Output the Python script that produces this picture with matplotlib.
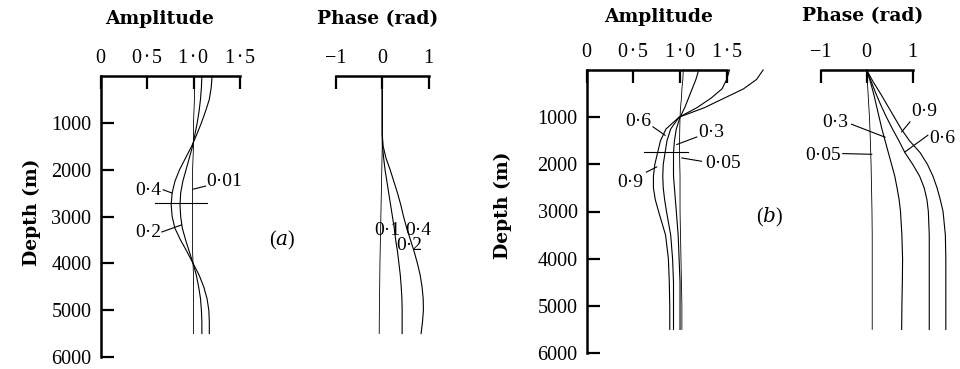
import numpy as np
import matplotlib
matplotlib.use('Agg')
import matplotlib.pyplot as plt

# ---------------- data ----------------
# (a) amplitude, depth in m
depth_a = [0, 250, 500, 750, 1000, 1250, 1500, 1750, 2000, 2250, 2500, 2750,
           3000, 3250, 3500, 3750, 4000, 4250, 4500, 4750, 5000, 5250, 5500]
amp_a_001 = [1.01, 1.01, 1.01, 1.005, 1.0, 1.0, 1.0, 0.995, 0.99, 0.99, 0.99, 0.99,
             0.99, 0.99, 0.99, 0.99, 0.995, 1.0, 1.0, 1.0, 1.0, 1.0, 1.0]
amp_a_02 = [1.09, 1.085, 1.075, 1.06, 1.04, 1.015, 0.99, 0.955, 0.92, 0.885, 0.862, 0.855,
            0.862, 0.88, 0.915, 0.955, 0.995, 1.03, 1.055, 1.075, 1.085, 1.09, 1.09]
amp_a_04 = [1.2, 1.19, 1.17, 1.13, 1.085, 1.035, 0.98, 0.915, 0.85, 0.8, 0.77, 0.76,
            0.77, 0.8, 0.86, 0.93, 0.995, 1.06, 1.11, 1.145, 1.165, 1.17, 1.17]
bar_a_amp = [0.59, 1.14]
bar_a_depth = [2720, 2720]

# (a) phase (rad)
phase_a_01 = [0, 0, 0, 0, 0, 0, 0, -0.005, -0.01, -0.015, -0.02, -0.025,
              -0.03, -0.035, -0.04, -0.045, -0.05, -0.053, -0.056, -0.059, -0.062, -0.064, -0.065]
phase_a_02 = [0, 0, 0, 0, 0, 0, 0.005, 0.03, 0.06, 0.1, 0.14, 0.18,
              0.22, 0.26, 0.29, 0.33, 0.36, 0.39, 0.41, 0.425, 0.43, 0.43, 0.43]
phase_a_04 = [0, 0, 0, 0, 0, 0, 0.02, 0.08, 0.17, 0.25, 0.33, 0.4,
              0.46, 0.53, 0.61, 0.69, 0.76, 0.82, 0.86, 0.885, 0.89, 0.87, 0.84]

# (b) amplitude
depth_b = [0, 200, 400, 600, 800, 1000, 1250, 1500, 1750, 2000, 2250, 2500,
           2750, 3000, 3500, 4000, 4500, 5000, 5500]
amp_b_09 = [1.89, 1.82, 1.68, 1.47, 1.26, 0.99, 0.85, 0.79, 0.76, 0.73, 0.715, 0.715,
            0.735, 0.77, 0.845, 0.875, 0.885, 0.89, 0.89]
amp_b_06 = [1.53, 1.5, 1.45, 1.33, 1.18, 0.99, 0.9, 0.86, 0.84, 0.82, 0.815, 0.82,
            0.835, 0.855, 0.9, 0.92, 0.93, 0.93, 0.93]
amp_b_03 = [1.2, 1.17, 1.13, 1.09, 1.05, 1.0, 0.96, 0.94, 0.93, 0.93, 0.93, 0.94,
            0.95, 0.96, 0.98, 0.99, 1.0, 1.0, 1.0]
amp_b_005 = [1.035, 1.03, 1.02, 1.015, 1.005, 1.0, 0.997, 0.995, 0.995, 0.997, 1.0, 1.0,
             1.0, 1.0, 1.005, 1.01, 1.015, 1.02, 1.02]
bar_b_amp = [0.61, 1.09]
bar_b_depth = [1745, 1745]

# (b) phase
depth_bp = [0, 250, 500, 750, 1000, 1250, 1500, 1750, 2000, 2250, 2500, 2750,
            3000, 3500, 4000, 4500, 5000, 5500]
phase_b_005 = [0, 0.015, 0.03, 0.045, 0.06, 0.07, 0.08, 0.087, 0.095, 0.1, 0.105, 0.11,
               0.115, 0.12, 0.12, 0.12, 0.12, 0.12]
phase_b_03 = [0, 0.08, 0.15, 0.21, 0.27, 0.33, 0.4, 0.47, 0.54, 0.61, 0.66, 0.705,
              0.735, 0.765, 0.78, 0.775, 0.765, 0.76]
phase_b_06 = [0, 0.1, 0.2, 0.31, 0.43, 0.56, 0.7, 0.83, 1.0, 1.15, 1.25, 1.31,
              1.34, 1.36, 1.36, 1.36, 1.36, 1.36]
phase_b_09 = [0, 0.14, 0.3, 0.45, 0.6, 0.75, 0.93, 1.16, 1.32, 1.44, 1.53, 1.6,
              1.66, 1.71, 1.72, 1.72, 1.72, 1.72]

amp_ticks = [0, 0.5, 1.0, 1.5]
amp_ticklabels = ['0', '0\u200a·\u200a5', '1\u200a·\u200a0', '1\u200a·\u200a5']
phase_ticks = [-1, 0, 1]
phase_ticklabels = ['\u22121', '0', '1']
depth_ticks = [1000, 2000, 3000, 4000, 5000, 6000]

SERIF = ['Liberation Serif', 'DejaVu Serif']
plt.rcParams['font.family'] = SERIF
plt.rcParams['mathtext.fontset'] = 'dejavuserif'

W, H = 960.0, 369.0
fig = plt.figure(figsize=(9.6, 3.69), dpi=100)


def px_axes(x0, x1, ytop, ybot):
    return fig.add_axes([x0 / W, 1 - ybot / H, (x1 - x0) / W, (ybot - ytop) / H])


def style_amp(ax):
    ax.set_xlim(0, 1.5)
    ax.set_ylim(6000, 0)
    for s in ['right', 'bottom']:
        ax.spines[s].set_visible(False)
    for s in ['top', 'left']:
        ax.spines[s].set_linewidth(1.8)
    ax.xaxis.tick_top()
    ax.set_xticks(amp_ticks)
    ax.set_xticklabels(amp_ticklabels)
    ax.set_yticks(depth_ticks)
    ax.tick_params(axis='x', direction='in', length=9, width=1.6, labelsize=14.5, pad=6)
    ax.tick_params(axis='y', direction='in', length=9, width=1.6, labelsize=14.5, pad=6.5)
    ax.patch.set_visible(False)


def style_phase(ax):
    ax.set_xlim(-1, 1)
    ax.set_ylim(6000, 0)
    for s in ['right', 'bottom', 'left']:
        ax.spines[s].set_visible(False)
    ax.spines['top'].set_linewidth(1.8)
    ax.xaxis.tick_top()
    ax.set_xticks(phase_ticks)
    ax.set_xticklabels(phase_ticklabels)
    ax.set_yticks([])
    ax.tick_params(axis='x', direction='in', length=9, width=1.6, labelsize=14.5, pad=6)
    ax.patch.set_visible(False)


LW = 0.8
LBL = 14


def curve_label(ax, txt, tx, ty, lx0, ly0, lx1, ly1):
    ax.text(tx, ty, txt, fontsize=LBL, ha='center', va='center', clip_on=False)
    ax.plot([lx0, lx1], [ly0, ly1], color='k', lw=0.8, clip_on=False)


# ---------------- (a) amplitude ----------------
ax1 = px_axes(100.5, 240, 76, 357)
style_amp(ax1)
ax1.plot(amp_a_001, depth_a, color='k', lw=0.6)
ax1.plot(amp_a_02, depth_a, color='k', lw=LW)
ax1.plot(amp_a_04, depth_a, color='k', lw=LW)
ax1.plot(bar_a_amp, bar_a_depth, color='k', lw=LW, clip_on=False)
curve_label(ax1, '0·4', 0.51, 2440, 0.675, 2430, 0.77, 2500)
curve_label(ax1, '0·01', 1.33, 2260, 1.13, 2350, 1.0, 2415)
curve_label(ax1, '0·2', 0.51, 3350, 0.66, 3330, 0.87, 3180)

# ---------------- (a) phase ----------------
ax2 = px_axes(336, 428.5, 76, 357)
style_phase(ax2)
ax2.plot(phase_a_01, depth_a, color='k', lw=0.6)
ax2.plot(phase_a_02, depth_a, color='k', lw=LW)
ax2.plot(phase_a_04, depth_a, color='k', lw=LW)
ax2.text(0.1, 3290, '0·1', fontsize=LBL, ha='center', va='center')
ax2.text(0.77, 3290, '0·4', fontsize=LBL, ha='center', va='center')
ax2.text(0.59, 3620, '0·2', fontsize=LBL, ha='center', va='center')

# ---------------- (b) amplitude ----------------
ax3 = px_axes(586.7, 726.7, 70, 353)
style_amp(ax3)
ax3.plot(amp_b_005, depth_b, color='k', lw=0.6, clip_on=False)
ax3.plot(amp_b_03, depth_b, color='k', lw=LW, clip_on=False)
ax3.plot(amp_b_06, depth_b, color='k', lw=LW, clip_on=False)
ax3.plot(amp_b_09, depth_b, color='k', lw=LW, clip_on=False)
ax3.plot(bar_b_amp, bar_b_depth, color='k', lw=LW, clip_on=False)
curve_label(ax3, '0·6', 0.55, 1100, 0.71, 1205, 0.84, 1385)
curve_label(ax3, '0·3', 1.33, 1335, 1.18, 1420, 0.965, 1580)
curve_label(ax3, '0·05', 1.46, 1985, 1.23, 1935, 1.02, 1865)
curve_label(ax3, '0·9', 0.465, 2375, 0.64, 2165, 0.75, 2055)

# ---------------- (b) phase ----------------
ax4 = px_axes(820.7, 912.7, 70, 353)
style_phase(ax4)
ax4.plot(phase_b_005, depth_bp, color='k', lw=0.6, clip_on=False)
ax4.plot(phase_b_03, depth_bp, color='k', lw=LW, clip_on=False)
ax4.plot(phase_b_06, depth_bp, color='k', lw=LW, clip_on=False)
ax4.plot(phase_b_09, depth_bp, color='k', lw=LW, clip_on=False)
curve_label(ax4, '0·9', 1.245, 887, 0.94, 1100, 0.76, 1312)
curve_label(ax4, '0·6', 1.65, 1447, 1.33, 1383, 0.83, 1738)
curve_label(ax4, '0·3', -0.68, 1106, -0.33, 1150, 0.4, 1425)
curve_label(ax4, '0·05', -0.94, 1810, -0.52, 1772, 0.11, 1787)

# ---------------- titles and labels ----------------
TFONT = dict(family='DejaVu Serif', weight='bold', fontsize=13.5, ha='center', va='center')
fig.text(160 / W, 1 - 19 / H, 'Amplitude', **TFONT)
fig.text(378 / W, 1 - 19 / H, 'Phase (rad)', **TFONT)
fig.text(659 / W, 1 - 17 / H, 'Amplitude', **TFONT)
fig.text(863 / W, 1 - 16 / H, 'Phase (rad)', **TFONT)
fig.text(32 / W, 1 - 212 / H, 'Depth (m)', rotation=90, **TFONT)
fig.text(503 / W, 1 - 205 / H, 'Depth (m)', rotation=90, **TFONT)
fig.text(282 / W, 1 - 240 / H, '($a$)', fontsize=14.5, ha='center', va='center')
fig.text(770 / W, 1 - 217 / H, '($b$)', fontsize=14.5, ha='center', va='center')

fig.savefig('out.png', dpi=100)
